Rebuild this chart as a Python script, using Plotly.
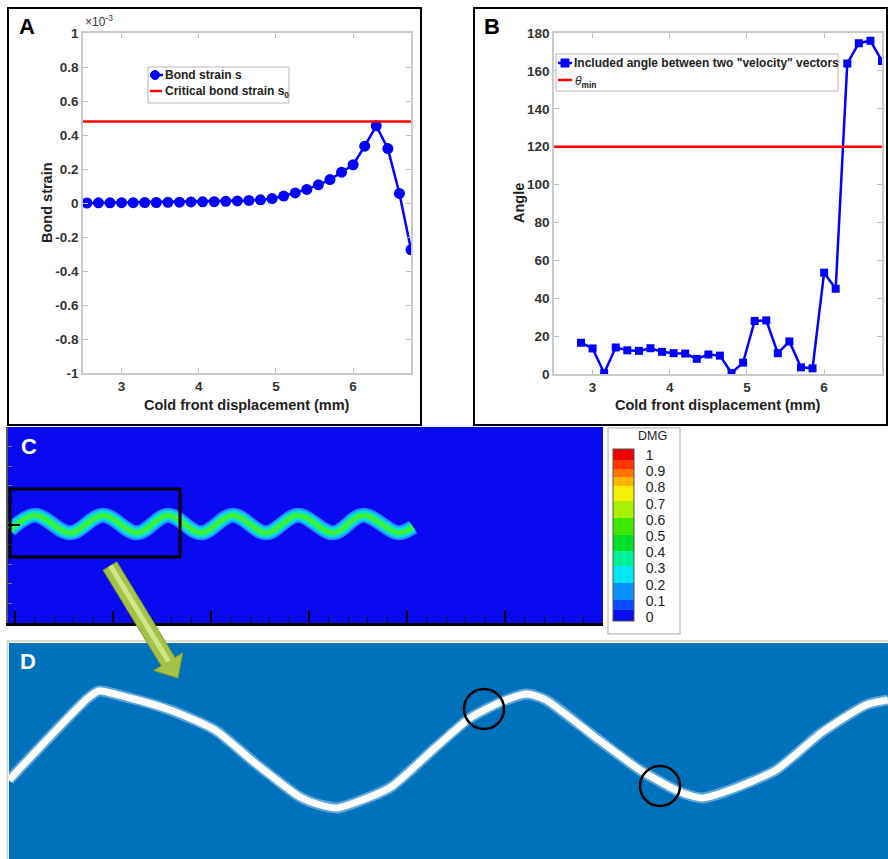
import plotly.graph_objects as go

W, H = 888, 859

# ---------------- Panel A data (bond strain, units of 1e-3) ----------------
strain_x = [2.55, 2.70, 2.85, 3.00, 3.15, 3.30, 3.45, 3.60, 3.75, 3.90,
            4.05, 4.20, 4.35, 4.50, 4.65, 4.80, 4.95, 5.10, 5.25, 5.40,
            5.55, 5.70, 5.85, 6.00, 6.15, 6.30, 6.45, 6.60, 6.75]
strain_s = [0.000, 0.001, 0.001, 0.002, 0.002, 0.003, 0.003, 0.004, 0.005, 0.006,
            0.007, 0.008, 0.010, 0.012, 0.015, 0.019, 0.026, 0.041, 0.059, 0.080,
            0.107, 0.138, 0.181, 0.225, 0.334, 0.454, 0.320, 0.056, -0.275]
critical_s0 = 0.48
a_yticks = [-1, -0.8, -0.6, -0.4, -0.2, 0, 0.2, 0.4, 0.6, 0.8, 1]
a_yticklabels = ["-1", "-0.8", "-0.6", "-0.4", "-0.2", "0", "0.2", "0.4", "0.6", "0.8", "1"]

# ---------------- Panel B data (included angle, degrees) ----------------
angle_x = [2.85, 3.00, 3.15, 3.30, 3.45, 3.60, 3.75, 3.90, 4.05, 4.20,
           4.35, 4.50, 4.65, 4.80, 4.95, 5.10, 5.25, 5.40, 5.55, 5.70,
           5.85, 6.00, 6.15, 6.30, 6.45, 6.60, 6.75]
angle_deg = [16.5, 13.5, 0.5, 14.0, 12.5, 12.2, 13.6, 11.7, 11.0, 10.8,
             8.0, 10.3, 9.7, 0.5, 6.0, 28.0, 28.3, 11.0, 17.2, 3.5,
             3.0, 53.5, 45.0, 163.9, 174.6, 175.9, 165.2]
theta_min = 120
b_yticks = [0, 20, 40, 60, 80, 100, 120, 140, 160, 180]
disp_ticks = [3, 4, 5, 6]

# ---------------- Panel C data (damage field crack path) ----------------
crack_c_x = [-0.05, 0.204, 0.561, 0.898, 1.245, 1.561, 1.898, 2.224, 2.561,
             2.888, 3.245, 3.551, 3.908, 4.061]
crack_c_y = [0.95, 1.10, 0.92, 1.10, 0.92, 1.10, 0.92, 1.10, 0.92,
             1.10, 0.92, 1.10, 0.92, 0.98]
zoom_box_x = [-0.05, 1.684]
zoom_box_y = [0.673, 1.367]
dmg_levels = [0, 0.066, 0.125, 0.222, 0.318, 0.405, 0.502, 0.599, 0.696,
              0.783, 0.838, 0.884, 0.934, 1.0]
dmg_colors = ["#0a0af0", "#0a4cff", "#0a90ff", "#00e6f4", "#00f09a", "#00e02a",
              "#3ee800", "#a6f000", "#f2f000", "#ffb400", "#ff7400", "#ff3600", "#f00000"]
dmg_ticklabels = ["0", "0.1", "0.2", "0.3", "0.4", "0.5", "0.6", "0.7", "0.8", "0.9", "1"]

# ---------------- Panel D data (zoomed crack path, panel pixels) ----------------
crack_d_x = [9, 88, 99, 130, 170, 215, 255, 300, 317, 337, 354, 391, 436, 470,
             501, 527, 546, 595, 640, 680, 702, 730, 776, 821, 866, 888]
crack_d_y = [780, 698, 691, 698, 710, 730, 763, 797, 804, 808, 803, 787, 747, 718,
             702, 694, 700, 737, 770, 792, 798, 790, 770, 733, 705, 700]
circle_x = [484, 660]
circle_y = [709, 786]


def px(x):
    return x / W


def py(y):
    return 1 - y / H


FONT = "Liberation Sans, Arial, sans-serif"
BLUE = "#0000ff"
RED = "#ff0000"

fig = go.Figure()

# Panel A
fig.add_trace(go.Scatter(x=strain_x, y=strain_s, mode="lines+markers",
                         line=dict(color=BLUE, width=2.5),
                         marker=dict(symbol="circle", size=11, color=BLUE),
                         xaxis="x", yaxis="y"))
# Panel B
fig.add_trace(go.Scatter(x=angle_x, y=angle_deg, mode="lines+markers",
                         line=dict(color=BLUE, width=2.5),
                         marker=dict(symbol="square", size=8, color=BLUE),
                         xaxis="x2", yaxis="y2"))

# Panel C background field + colorbar
scale = []
for i, c in enumerate(dmg_colors):
    scale.append([dmg_levels[i], c])
    scale.append([dmg_levels[i + 1], c])
cb_tickpos = [(621 - (617 - k * 16.2)) / 172 for k in range(len(dmg_ticklabels))]
fig.add_trace(go.Heatmap(z=[[0, 0], [0, 0]], x=[-0.0714, 6.0], y=[0, 2.0],
                         zmin=0, zmax=1, colorscale=scale, hoverinfo="skip",
                         xaxis="x3", yaxis="y3",
                         colorbar=dict(x=px(613), xanchor="left", xpad=0,
                                       y=py(621), yanchor="bottom", ypad=0,
                                       len=172, lenmode="pixels",
                                       thickness=21, thicknessmode="pixels",
                                       tickvals=cb_tickpos, ticktext=dmg_ticklabels,
                                       ticks="outside", ticklen=9,
                                       tickcolor="rgba(0,0,0,0)",
                                       tickfont=dict(family=FONT, size=14, color="#222"),
                                       outlinewidth=1, outlinecolor="#555",
                                       borderwidth=0)))
for col, wdt in [("#2a78ff", 15), ("#18b8ff", 12), ("#00e8d0", 9), ("#3cf03c", 5)]:
    fig.add_trace(go.Scatter(x=crack_c_x, y=crack_c_y, mode="lines",
                             line=dict(color=col, width=wdt, shape="spline", smoothing=1.0),
                             hoverinfo="skip", xaxis="x3", yaxis="y3"))

# Panel D
fig.add_trace(go.Scatter(x=crack_d_x, y=crack_d_y, mode="lines",
                         line=dict(color="rgba(200,230,250,0.45)", width=11, shape="spline", smoothing=0.6),
                         hoverinfo="skip", xaxis="x4", yaxis="y4"))
fig.add_trace(go.Scatter(x=crack_d_x, y=crack_d_y, mode="lines",
                         line=dict(color="white", width=7, shape="spline", smoothing=0.6),
                         hoverinfo="skip", xaxis="x4", yaxis="y4"))
fig.add_trace(go.Scatter(x=circle_x, y=circle_y, mode="markers",
                         marker=dict(symbol="circle-open", size=40, color="black",
                                     line=dict(width=2.5, color="black")),
                         hoverinfo="skip", xaxis="x4", yaxis="y4"))

axis_common = dict(showline=True, linecolor="#c9c9c9", linewidth=1.5, mirror="ticks",
                   ticks="inside", ticklen=5, tickcolor="#bdbdbd", tickwidth=1,
                   showgrid=False, zeroline=False, automargin=False,
                   tickfont=dict(family=FONT, size=13.5, color="#333", weight="bold"))

fig.update_layout(
    width=W, height=H, autosize=False,
    margin=dict(l=0, r=0, t=0, b=0, pad=0, autoexpand=False),
    paper_bgcolor="white", plot_bgcolor="white",
    showlegend=False,
    font=dict(family=FONT),
    xaxis=dict(domain=[px(83), px(411)], range=[2.5, 6.75], anchor="y",
               tickvals=disp_ticks, **axis_common),
    yaxis=dict(domain=[py(373), py(33)], range=[-1, 1], anchor="x",
               tickvals=a_yticks, ticktext=a_yticklabels, **axis_common),
    xaxis2=dict(domain=[px(554), px(882)], range=[2.5, 6.75], anchor="y2",
                tickvals=disp_ticks, **axis_common),
    yaxis2=dict(domain=[py(374), py(33)], range=[0, 180], anchor="x2",
                tickvals=b_yticks, **axis_common),
    xaxis3=dict(domain=[px(8), px(603)], range=[-0.0714, 6.0], anchor="y3",
                showline=True, linecolor="black", linewidth=2.5, automargin=False,
                ticks="inside", ticklen=12, tickwidth=2, tickcolor="black",
                tick0=0, dtick=1, showticklabels=False, showgrid=False, zeroline=False,
                minor=dict(dtick=0.2, ticks="inside", ticklen=6, tickwidth=1, tickcolor="#111")),
    yaxis3=dict(domain=[py(623), py(427)], range=[0, 2.0], anchor="x3",
                showline=True, linecolor="#555", linewidth=1.5, automargin=False,
                ticks="inside", tickvals=[1], ticklen=12, tickwidth=2, tickcolor="black",
                showticklabels=False, showgrid=False, zeroline=False,
                minor=dict(dtick=0.2, ticks="inside", ticklen=4, tickwidth=1, tickcolor="#777")),
    xaxis4=dict(domain=[px(9), 1], range=[9, 888], anchor="y4", visible=False, automargin=False),
    yaxis4=dict(domain=[0, py(643)], range=[859, 643], anchor="x4", visible=False, automargin=False),
)

shapes = []
# panel frames
shapes.append(dict(type="rect", xref="paper", yref="paper", x0=px(8), x1=px(421),
                   y0=py(425), y1=py(8), line=dict(color="black", width=2)))
shapes.append(dict(type="rect", xref="paper", yref="paper", x0=px(474), x1=px(887),
                   y0=py(425), y1=py(8), line=dict(color="black", width=2)))
# threshold lines
shapes.append(dict(type="line", xref="x domain", yref="y", x0=0, x1=1,
                   y0=critical_s0, y1=critical_s0, line=dict(color=RED, width=2.5), layer="above"))
shapes.append(dict(type="line", xref="x2 domain", yref="y2", x0=0, x1=1,
                   y0=theta_min, y1=theta_min, line=dict(color=RED, width=2.5), layer="above"))
# legend A
shapes.append(dict(type="rect", xref="paper", yref="paper", x0=px(148), x1=px(289),
                   y0=py(103), y1=py(67), line=dict(color="#b5b5b5", width=1),
                   fillcolor="white", layer="above"))
shapes.append(dict(type="line", xref="paper", yref="paper", x0=px(150), x1=px(163),
                   y0=py(75), y1=py(75), line=dict(color=BLUE, width=2.5), layer="above"))
shapes.append(dict(type="circle", xref="paper", yref="paper", x0=px(150.5), x1=px(159.5),
                   y0=py(79.5), y1=py(70.5), line=dict(color=BLUE, width=1),
                   fillcolor=BLUE, layer="above"))
shapes.append(dict(type="line", xref="paper", yref="paper", x0=px(150), x1=px(162),
                   y0=py(91), y1=py(91), line=dict(color=RED, width=2.5), layer="above"))
# legend B
shapes.append(dict(type="rect", xref="paper", yref="paper", x0=px(556), x1=px(838),
                   y0=py(91), y1=py(54), line=dict(color="#b5b5b5", width=1),
                   fillcolor="white", layer="above"))
shapes.append(dict(type="line", xref="paper", yref="paper", x0=px(558), x1=px(572),
                   y0=py(63), y1=py(63), line=dict(color=BLUE, width=2.5), layer="above"))
shapes.append(dict(type="rect", xref="paper", yref="paper", x0=px(561), x1=px(569),
                   y0=py(67), y1=py(59), line=dict(color=BLUE, width=1),
                   fillcolor=BLUE, layer="above"))
shapes.append(dict(type="line", xref="paper", yref="paper", x0=px(558), x1=px(572),
                   y0=py(80), y1=py(80), line=dict(color=RED, width=2.5), layer="above"))
# panel C zoom box
shapes.append(dict(type="rect", xref="x3", yref="y3", x0=zoom_box_x[0], x1=zoom_box_x[1],
                   y0=zoom_box_y[0], y1=zoom_box_y[1], line=dict(color="black", width=3),
                   layer="above"))
# colorbar frame
shapes.append(dict(type="rect", xref="paper", yref="paper", x0=px(608), x1=px(680),
                   y0=py(634), y1=py(428), line=dict(color="#c8c8c8", width=1.5), layer="below"))
# panel D background and outline
shapes.append(dict(type="rect", xref="paper", yref="paper", x0=px(7.5), x1=px(889),
                   y0=py(860), y1=py(641), line=dict(color="#cfcfcf", width=1.5), layer="below"))
shapes.append(dict(type="rect", xref="x4 domain", yref="y4 domain", x0=0, x1=1, y0=0, y1=1,
                   line=dict(width=0), fillcolor="#0072bc", layer="below"))

# green arrow from C to D (decoration)
tx, ty = 110.0, 566.0
hx, hy = 178.0, 678.0
dx, dy = hx - tx, hy - ty
L = (dx ** 2 + dy ** 2) ** 0.5
ux, uy = dx / L, dy / L
nx, ny = -uy, ux
bx, by = hx - 19 * ux, hy - 19 * uy
pts = [(tx + 8 * nx, ty + 8 * ny), (bx + 8 * nx, by + 8 * ny),
       (bx + 17 * nx, by + 17 * ny), (hx, hy), (bx - 17 * nx, by - 17 * ny),
       (bx - 8 * nx, by - 8 * ny), (tx - 8 * nx, ty - 8 * ny)]
path = "M " + " L ".join(f"{px(a):.5f},{py(b):.5f}" for a, b in pts) + " Z"
shapes.append(dict(type="path", xref="paper", yref="paper", path=path,
                   fillcolor="#a4c246", line=dict(color="#7f9c30", width=1), layer="above"))
hl = [(tx + 2 * nx, ty + 2 * ny), (bx + 2 * nx, by + 2 * ny),
      (bx - 3 * nx, by - 3 * ny), (tx - 3 * nx, ty - 3 * ny)]
path2 = "M " + " L ".join(f"{px(a):.5f},{py(b):.5f}" for a, b in hl) + " Z"
shapes.append(dict(type="path", xref="paper", yref="paper", path=path2,
                   fillcolor="#cfe58a", line=dict(width=0), layer="above"))
fig.update_layout(shapes=shapes)


def ann(text, x, y, size, color="#222", xanchor="center", yanchor="middle", angle=0):
    return dict(text=text, x=px(x), y=py(y), xref="paper", yref="paper",
                showarrow=False, xanchor=xanchor, yanchor=yanchor, textangle=angle,
                font=dict(family=FONT, size=size, color=color))


annotations = [
    ann("<b>A</b>", 27, 27, 22, "black"),
    ann("<b>B</b>", 492, 27, 22, "black"),
    ann("<b>C</b>", 29, 447, 22, "white"),
    ann("<b>D</b>", 28, 661, 22, "white"),
    ann("×10<sup>-3</sup>", 83, 21, 12, "#333", xanchor="left"),
    ann("<b>Bond strain</b>", 47, 203, 14.5, "#222", angle=-90),
    ann("<b>Cold front displacement (mm)</b>", 247, 405, 14.5, "#222"),
    ann("<b>Angle</b>", 519, 203, 14.5, "#222", angle=-90),
    ann("<b>Cold front displacement (mm)</b>", 718, 405, 14.5, "#222"),
    ann("<b>Bond strain s</b>", 163, 75, 12, "#222", xanchor="left"),
    ann("<b>Critical bond strain s<sub>0</sub></b>", 163, 92, 12, "#222", xanchor="left"),
    ann("<b>Included angle between two \"velocity\" vectors</b>", 572, 63, 12, "#222", xanchor="left"),
    ann("<i>θ</i><sub><b>min</b></sub>", 573, 82, 12, "#222", xanchor="left"),
    ann("DMG", 652, 436, 12.5, "#222"),
]
fig.update_layout(annotations=annotations)

fig.write_html("out.html")
